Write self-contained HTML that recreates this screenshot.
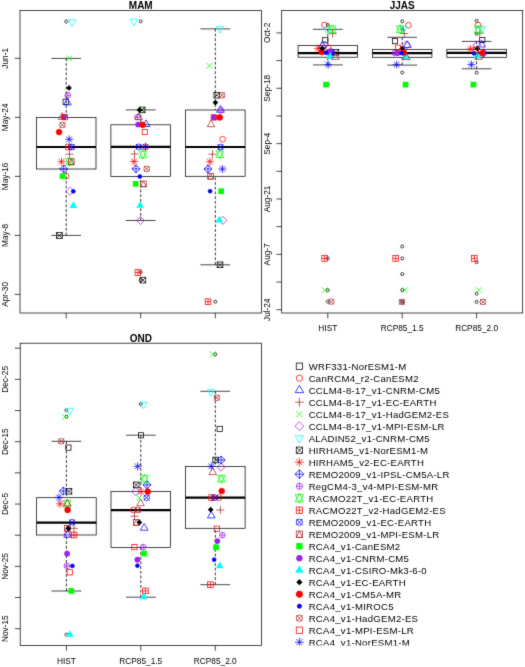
<!DOCTYPE html>
<html><head><meta charset="utf-8"><style>
html,body{margin:0;padding:0;background:#fff;overflow:hidden;}
svg{display:block;font-family:"Liberation Sans",sans-serif;}
</style></head><body>
<svg width="525" height="667" viewBox="0 0 525 667">
<defs><filter id="bl" x="0" y="0" width="525" height="667" filterUnits="userSpaceOnUse" color-interpolation-filters="sRGB"><feConvolveMatrix order="3" kernelMatrix="0.01134 0.08382 0.01134 0.08382 0.61935 0.08382 0.01134 0.08382 0.01134" edgeMode="duplicate"/></filter></defs>
<rect width="525" height="667" fill="#fff"/>
<g filter="url(#bl)">
<text x="140.75" y="9" font-family="Liberation Sans" font-weight="bold" font-size="10" text-anchor="middle" fill="#000">MAM</text>
<line x1="66.2" y1="58.4" x2="66.2" y2="117.4" stroke="#000" stroke-width="0.8" stroke-dasharray="2.8 1.9"/>
<line x1="66.2" y1="235.4" x2="66.2" y2="169" stroke="#000" stroke-width="0.8" stroke-dasharray="2.8 1.9"/>
<line x1="51.3" y1="58.4" x2="81.1" y2="58.4" stroke="#000" stroke-width="0.72" fill="none"/>
<line x1="51.3" y1="235.4" x2="81.1" y2="235.4" stroke="#000" stroke-width="0.72" fill="none"/>
<rect x="36.4" y="117.4" width="59.6" height="51.6" fill="#fff" stroke="#000" stroke-width="0.72" fill="none"/>
<line x1="36.4" y1="147" x2="96" y2="147" stroke="#000" stroke-width="2.2"/>
<line x1="140.7" y1="109.9" x2="140.7" y2="124.8" stroke="#000" stroke-width="0.8" stroke-dasharray="2.8 1.9"/>
<line x1="140.7" y1="220.5" x2="140.7" y2="176.4" stroke="#000" stroke-width="0.8" stroke-dasharray="2.8 1.9"/>
<line x1="125.8" y1="109.9" x2="155.6" y2="109.9" stroke="#000" stroke-width="0.72" fill="none"/>
<line x1="125.8" y1="220.5" x2="155.6" y2="220.5" stroke="#000" stroke-width="0.72" fill="none"/>
<rect x="110.9" y="124.8" width="59.6" height="51.6" fill="#fff" stroke="#000" stroke-width="0.72" fill="none"/>
<line x1="110.9" y1="146.8" x2="170.5" y2="146.8" stroke="#000" stroke-width="2.2"/>
<line x1="215.3" y1="28.9" x2="215.3" y2="110" stroke="#000" stroke-width="0.8" stroke-dasharray="2.8 1.9"/>
<line x1="215.3" y1="264.8" x2="215.3" y2="176.3" stroke="#000" stroke-width="0.8" stroke-dasharray="2.8 1.9"/>
<line x1="200.4" y1="28.9" x2="230.2" y2="28.9" stroke="#000" stroke-width="0.72" fill="none"/>
<line x1="200.4" y1="264.8" x2="230.2" y2="264.8" stroke="#000" stroke-width="0.72" fill="none"/>
<rect x="185.5" y="110" width="59.6" height="66.3" fill="#fff" stroke="#000" stroke-width="0.72" fill="none"/>
<line x1="185.5" y1="147" x2="245.1" y2="147" stroke="#000" stroke-width="2.2"/>
<rect x="20" y="10.4" width="241.5" height="302.6" stroke="#000" stroke-width="0.72" fill="none"/>
<line x1="14.7" y1="58.3" x2="20" y2="58.3" stroke="#000" stroke-width="0.72" fill="none"/>
<text transform="translate(8.2,58.3) rotate(-90)" font-family="Liberation Sans" font-size="8.3" text-anchor="middle" fill="#000">Jun-1</text>
<line x1="14.7" y1="117.33" x2="20" y2="117.33" stroke="#000" stroke-width="0.72" fill="none"/>
<text transform="translate(8.2,117.33) rotate(-90)" font-family="Liberation Sans" font-size="8.3" text-anchor="middle" fill="#000">May-24</text>
<line x1="14.7" y1="176.36" x2="20" y2="176.36" stroke="#000" stroke-width="0.72" fill="none"/>
<text transform="translate(8.2,176.36) rotate(-90)" font-family="Liberation Sans" font-size="8.3" text-anchor="middle" fill="#000">May-16</text>
<line x1="14.7" y1="235.39" x2="20" y2="235.39" stroke="#000" stroke-width="0.72" fill="none"/>
<text transform="translate(8.2,235.39) rotate(-90)" font-family="Liberation Sans" font-size="8.3" text-anchor="middle" fill="#000">May-8</text>
<line x1="14.7" y1="294.42" x2="20" y2="294.42" stroke="#000" stroke-width="0.72" fill="none"/>
<text transform="translate(8.2,294.42) rotate(-90)" font-family="Liberation Sans" font-size="8.3" text-anchor="middle" fill="#000">Apr-30</text>
<line x1="66.2" y1="313" x2="66.2" y2="318.3" stroke="#000" stroke-width="0.72" fill="none"/>
<line x1="140.7" y1="313" x2="140.7" y2="318.3" stroke="#000" stroke-width="0.72" fill="none"/>
<line x1="215.3" y1="313" x2="215.3" y2="318.3" stroke="#000" stroke-width="0.72" fill="none"/>
<text x="402.2" y="9" font-family="Liberation Sans" font-weight="bold" font-size="10" text-anchor="middle" fill="#000">JJAS</text>
<line x1="327.8" y1="29.3" x2="327.8" y2="45.4" stroke="#000" stroke-width="0.8" stroke-dasharray="2.8 1.9"/>
<line x1="327.8" y1="64.9" x2="327.8" y2="57.2" stroke="#000" stroke-width="0.8" stroke-dasharray="2.8 1.9"/>
<line x1="312.93" y1="29.3" x2="342.68" y2="29.3" stroke="#000" stroke-width="0.72" fill="none"/>
<line x1="312.93" y1="64.9" x2="342.68" y2="64.9" stroke="#000" stroke-width="0.72" fill="none"/>
<rect x="298.05" y="45.4" width="59.5" height="11.8" fill="#fff" stroke="#000" stroke-width="0.72" fill="none"/>
<line x1="298.05" y1="53.1" x2="357.55" y2="53.1" stroke="#000" stroke-width="2.2"/>
<line x1="402.2" y1="37.3" x2="402.2" y2="49.5" stroke="#000" stroke-width="0.8" stroke-dasharray="2.8 1.9"/>
<line x1="402.2" y1="65.1" x2="402.2" y2="57.3" stroke="#000" stroke-width="0.8" stroke-dasharray="2.8 1.9"/>
<line x1="387.32" y1="37.3" x2="417.07" y2="37.3" stroke="#000" stroke-width="0.72" fill="none"/>
<line x1="387.32" y1="65.1" x2="417.07" y2="65.1" stroke="#000" stroke-width="0.72" fill="none"/>
<rect x="372.45" y="49.5" width="59.5" height="7.8" fill="#fff" stroke="#000" stroke-width="0.72" fill="none"/>
<line x1="372.45" y1="53.1" x2="431.95" y2="53.1" stroke="#000" stroke-width="2.2"/>
<line x1="476.6" y1="41.4" x2="476.6" y2="49.3" stroke="#000" stroke-width="0.8" stroke-dasharray="2.8 1.9"/>
<line x1="476.6" y1="68.8" x2="476.6" y2="57.3" stroke="#000" stroke-width="0.8" stroke-dasharray="2.8 1.9"/>
<line x1="461.73" y1="41.4" x2="491.48" y2="41.4" stroke="#000" stroke-width="0.72" fill="none"/>
<line x1="461.73" y1="68.8" x2="491.48" y2="68.8" stroke="#000" stroke-width="0.72" fill="none"/>
<rect x="446.85" y="49.3" width="59.5" height="8" fill="#fff" stroke="#000" stroke-width="0.72" fill="none"/>
<line x1="446.85" y1="52.9" x2="506.35" y2="52.9" stroke="#000" stroke-width="2.2"/>
<rect x="281.7" y="10.4" width="241" height="302.6" stroke="#000" stroke-width="0.72" fill="none"/>
<line x1="276.4" y1="32.9" x2="281.7" y2="32.9" stroke="#000" stroke-width="0.72" fill="none"/>
<text transform="translate(270.1,32.9) rotate(-90)" font-family="Liberation Sans" font-size="8.3" text-anchor="middle" fill="#000">Oct-2</text>
<line x1="276.4" y1="60.58" x2="281.7" y2="60.58" stroke="#000" stroke-width="0.72" fill="none"/>
<line x1="276.4" y1="88.26" x2="281.7" y2="88.26" stroke="#000" stroke-width="0.72" fill="none"/>
<text transform="translate(270.1,88.26) rotate(-90)" font-family="Liberation Sans" font-size="8.3" text-anchor="middle" fill="#000">Sep-18</text>
<line x1="276.4" y1="115.94" x2="281.7" y2="115.94" stroke="#000" stroke-width="0.72" fill="none"/>
<line x1="276.4" y1="143.62" x2="281.7" y2="143.62" stroke="#000" stroke-width="0.72" fill="none"/>
<text transform="translate(270.1,143.62) rotate(-90)" font-family="Liberation Sans" font-size="8.3" text-anchor="middle" fill="#000">Sep-4</text>
<line x1="276.4" y1="171.3" x2="281.7" y2="171.3" stroke="#000" stroke-width="0.72" fill="none"/>
<line x1="276.4" y1="198.98" x2="281.7" y2="198.98" stroke="#000" stroke-width="0.72" fill="none"/>
<text transform="translate(270.1,198.98) rotate(-90)" font-family="Liberation Sans" font-size="8.3" text-anchor="middle" fill="#000">Aug-21</text>
<line x1="276.4" y1="226.66" x2="281.7" y2="226.66" stroke="#000" stroke-width="0.72" fill="none"/>
<line x1="276.4" y1="254.34" x2="281.7" y2="254.34" stroke="#000" stroke-width="0.72" fill="none"/>
<text transform="translate(270.1,254.34) rotate(-90)" font-family="Liberation Sans" font-size="8.3" text-anchor="middle" fill="#000">Aug-7</text>
<line x1="276.4" y1="282.02" x2="281.7" y2="282.02" stroke="#000" stroke-width="0.72" fill="none"/>
<line x1="276.4" y1="309.7" x2="281.7" y2="309.7" stroke="#000" stroke-width="0.72" fill="none"/>
<text transform="translate(270.1,309.7) rotate(-90)" font-family="Liberation Sans" font-size="8.3" text-anchor="middle" fill="#000">Jul-24</text>
<line x1="327.8" y1="313" x2="327.8" y2="318.3" stroke="#000" stroke-width="0.72" fill="none"/>
<text x="327.8" y="331.3" font-family="Liberation Sans" font-size="8.3" text-anchor="middle" fill="#000">HIST</text>
<line x1="402.2" y1="313" x2="402.2" y2="318.3" stroke="#000" stroke-width="0.72" fill="none"/>
<text x="402.2" y="331.3" font-family="Liberation Sans" font-size="8.3" text-anchor="middle" fill="#000">RCP85_1.5</text>
<line x1="476.6" y1="313" x2="476.6" y2="318.3" stroke="#000" stroke-width="0.72" fill="none"/>
<text x="476.6" y="331.3" font-family="Liberation Sans" font-size="8.3" text-anchor="middle" fill="#000">RCP85_2.0</text>
<text x="140.85" y="341.5" font-family="Liberation Sans" font-weight="bold" font-size="10" text-anchor="middle" fill="#000">OND</text>
<line x1="66.4" y1="441.3" x2="66.4" y2="497.7" stroke="#000" stroke-width="0.8" stroke-dasharray="2.8 1.9"/>
<line x1="66.4" y1="591" x2="66.4" y2="535" stroke="#000" stroke-width="0.8" stroke-dasharray="2.8 1.9"/>
<line x1="51.5" y1="441.3" x2="81.3" y2="441.3" stroke="#000" stroke-width="0.72" fill="none"/>
<line x1="51.5" y1="591" x2="81.3" y2="591" stroke="#000" stroke-width="0.72" fill="none"/>
<rect x="36.6" y="497.7" width="59.6" height="37.3" fill="#fff" stroke="#000" stroke-width="0.72" fill="none"/>
<line x1="36.6" y1="522.6" x2="96.2" y2="522.6" stroke="#000" stroke-width="2.2"/>
<line x1="140.8" y1="435.2" x2="140.8" y2="491.6" stroke="#000" stroke-width="0.8" stroke-dasharray="2.8 1.9"/>
<line x1="140.8" y1="597.2" x2="140.8" y2="547.4" stroke="#000" stroke-width="0.8" stroke-dasharray="2.8 1.9"/>
<line x1="125.9" y1="435.2" x2="155.7" y2="435.2" stroke="#000" stroke-width="0.72" fill="none"/>
<line x1="125.9" y1="597.2" x2="155.7" y2="597.2" stroke="#000" stroke-width="0.72" fill="none"/>
<rect x="111" y="491.6" width="59.6" height="55.8" fill="#fff" stroke="#000" stroke-width="0.72" fill="none"/>
<line x1="111" y1="510.2" x2="170.6" y2="510.2" stroke="#000" stroke-width="2.2"/>
<line x1="215.3" y1="391.3" x2="215.3" y2="466.5" stroke="#000" stroke-width="0.8" stroke-dasharray="2.8 1.9"/>
<line x1="215.3" y1="584.7" x2="215.3" y2="528.3" stroke="#000" stroke-width="0.8" stroke-dasharray="2.8 1.9"/>
<line x1="200.4" y1="391.3" x2="230.2" y2="391.3" stroke="#000" stroke-width="0.72" fill="none"/>
<line x1="200.4" y1="584.7" x2="230.2" y2="584.7" stroke="#000" stroke-width="0.72" fill="none"/>
<rect x="185.5" y="466.5" width="59.6" height="61.8" fill="#fff" stroke="#000" stroke-width="0.72" fill="none"/>
<line x1="185.5" y1="497.6" x2="245.1" y2="497.6" stroke="#000" stroke-width="2.2"/>
<rect x="20.2" y="343.2" width="241.3" height="302.2" stroke="#000" stroke-width="0.72" fill="none"/>
<line x1="14.9" y1="348.2" x2="20.2" y2="348.2" stroke="#000" stroke-width="0.72" fill="none"/>
<line x1="14.9" y1="379.37" x2="20.2" y2="379.37" stroke="#000" stroke-width="0.72" fill="none"/>
<text transform="translate(8.4,379.37) rotate(-90)" font-family="Liberation Sans" font-size="8.3" text-anchor="middle" fill="#000">Dec-25</text>
<line x1="14.9" y1="410.54" x2="20.2" y2="410.54" stroke="#000" stroke-width="0.72" fill="none"/>
<line x1="14.9" y1="441.71" x2="20.2" y2="441.71" stroke="#000" stroke-width="0.72" fill="none"/>
<text transform="translate(8.4,441.71) rotate(-90)" font-family="Liberation Sans" font-size="8.3" text-anchor="middle" fill="#000">Dec-15</text>
<line x1="14.9" y1="472.88" x2="20.2" y2="472.88" stroke="#000" stroke-width="0.72" fill="none"/>
<line x1="14.9" y1="504.05" x2="20.2" y2="504.05" stroke="#000" stroke-width="0.72" fill="none"/>
<text transform="translate(8.4,504.05) rotate(-90)" font-family="Liberation Sans" font-size="8.3" text-anchor="middle" fill="#000">Dec-5</text>
<line x1="14.9" y1="535.22" x2="20.2" y2="535.22" stroke="#000" stroke-width="0.72" fill="none"/>
<line x1="14.9" y1="566.39" x2="20.2" y2="566.39" stroke="#000" stroke-width="0.72" fill="none"/>
<text transform="translate(8.4,566.39) rotate(-90)" font-family="Liberation Sans" font-size="8.3" text-anchor="middle" fill="#000">Nov-25</text>
<line x1="14.9" y1="597.56" x2="20.2" y2="597.56" stroke="#000" stroke-width="0.72" fill="none"/>
<line x1="14.9" y1="628.73" x2="20.2" y2="628.73" stroke="#000" stroke-width="0.72" fill="none"/>
<text transform="translate(8.4,628.73) rotate(-90)" font-family="Liberation Sans" font-size="8.3" text-anchor="middle" fill="#000">Nov-15</text>
<line x1="66.4" y1="645.4" x2="66.4" y2="650.7" stroke="#000" stroke-width="0.72" fill="none"/>
<text x="66.4" y="663.7" font-family="Liberation Sans" font-size="8.3" text-anchor="middle" fill="#000">HIST</text>
<line x1="140.8" y1="645.4" x2="140.8" y2="650.7" stroke="#000" stroke-width="0.72" fill="none"/>
<text x="140.8" y="663.7" font-family="Liberation Sans" font-size="8.3" text-anchor="middle" fill="#000">RCP85_1.5</text>
<line x1="215.3" y1="645.4" x2="215.3" y2="650.7" stroke="#000" stroke-width="0.72" fill="none"/>
<text x="215.3" y="663.7" font-family="Liberation Sans" font-size="8.3" text-anchor="middle" fill="#000">RCP85_2.0</text>
<circle cx="66.2" cy="21.5" r="1.5" fill="none" stroke="#000" stroke-width="0.75"/>
<circle cx="140.7" cy="21.4" r="1.5" fill="none" stroke="#000" stroke-width="0.75"/>
<circle cx="140.7" cy="272.1" r="1.5" fill="none" stroke="#000" stroke-width="0.75"/>
<circle cx="140.7" cy="280.1" r="1.5" fill="none" stroke="#000" stroke-width="0.75"/>
<circle cx="215.3" cy="301.7" r="1.5" fill="none" stroke="#000" stroke-width="0.75"/>
<circle cx="327.8" cy="25" r="1.5" fill="none" stroke="#000" stroke-width="0.75"/>
<circle cx="327.8" cy="84.6" r="1.5" fill="none" stroke="#000" stroke-width="0.75"/>
<circle cx="327.8" cy="258.4" r="1.5" fill="none" stroke="#000" stroke-width="0.75"/>
<circle cx="327.8" cy="290.2" r="1.5" fill="none" stroke="#000" stroke-width="0.75"/>
<circle cx="327.8" cy="301.6" r="1.5" fill="none" stroke="#000" stroke-width="0.75"/>
<circle cx="402.2" cy="21.3" r="1.5" fill="none" stroke="#000" stroke-width="0.75"/>
<circle cx="402.2" cy="29.3" r="1.5" fill="none" stroke="#000" stroke-width="0.75"/>
<circle cx="402.2" cy="72.5" r="1.5" fill="none" stroke="#000" stroke-width="0.75"/>
<circle cx="402.2" cy="246.5" r="1.5" fill="none" stroke="#000" stroke-width="0.75"/>
<circle cx="402.2" cy="258.4" r="1.5" fill="none" stroke="#000" stroke-width="0.75"/>
<circle cx="402.2" cy="274.1" r="1.5" fill="none" stroke="#000" stroke-width="0.75"/>
<circle cx="402.2" cy="290.1" r="1.5" fill="none" stroke="#000" stroke-width="0.75"/>
<circle cx="402.2" cy="301.9" r="1.5" fill="none" stroke="#000" stroke-width="0.75"/>
<circle cx="476.6" cy="20.8" r="1.5" fill="none" stroke="#000" stroke-width="0.75"/>
<circle cx="476.6" cy="33.8" r="1.5" fill="none" stroke="#000" stroke-width="0.75"/>
<circle cx="476.6" cy="72.6" r="1.5" fill="none" stroke="#000" stroke-width="0.75"/>
<circle cx="476.6" cy="262.2" r="1.5" fill="none" stroke="#000" stroke-width="0.75"/>
<circle cx="476.6" cy="293.7" r="1.5" fill="none" stroke="#000" stroke-width="0.75"/>
<circle cx="476.6" cy="301.9" r="1.5" fill="none" stroke="#000" stroke-width="0.75"/>
<circle cx="66.4" cy="410.2" r="1.5" fill="none" stroke="#000" stroke-width="0.75"/>
<circle cx="66.4" cy="416.7" r="1.5" fill="none" stroke="#000" stroke-width="0.75"/>
<circle cx="66.4" cy="634.6" r="1.5" fill="none" stroke="#000" stroke-width="0.75"/>
<circle cx="140.8" cy="404.2" r="1.5" fill="none" stroke="#000" stroke-width="0.75"/>
<circle cx="215.3" cy="354.3" r="1.5" fill="none" stroke="#000" stroke-width="0.75"/>
<rect x="63.08" y="99.18" width="5.24" height="5.24" fill="none" stroke="#000000" stroke-width="0.75"/>
<rect x="322.68" y="37.48" width="5.24" height="5.24" fill="none" stroke="#000000" stroke-width="0.75"/>
<rect x="392.38" y="38.48" width="5.24" height="5.24" fill="none" stroke="#000000" stroke-width="0.75"/>
<rect x="479.68" y="37.38" width="5.24" height="5.24" fill="none" stroke="#000000" stroke-width="0.75"/>
<rect x="65.78" y="444.98" width="5.24" height="5.24" fill="none" stroke="#000000" stroke-width="0.75"/>
<rect x="138.38" y="432.68" width="5.24" height="5.24" fill="none" stroke="#000000" stroke-width="0.75"/>
<rect x="217.08" y="426.28" width="5.24" height="5.24" fill="none" stroke="#000000" stroke-width="0.75"/>
<circle cx="66" cy="176.2" r="2.85" fill="none" stroke="#FF0000" stroke-width="0.75"/>
<circle cx="145.5" cy="146.8" r="2.85" fill="none" stroke="#FF0000" stroke-width="0.75"/>
<circle cx="222.6" cy="139.3" r="2.85" fill="none" stroke="#FF0000" stroke-width="0.75"/>
<circle cx="324.4" cy="25" r="2.85" fill="none" stroke="#FF0000" stroke-width="0.75"/>
<circle cx="328.3" cy="47.8" r="2.85" fill="none" stroke="#FF0000" stroke-width="0.75"/>
<circle cx="408.4" cy="25.3" r="2.85" fill="none" stroke="#FF0000" stroke-width="0.75"/>
<circle cx="478" cy="25" r="2.85" fill="none" stroke="#FF0000" stroke-width="0.75"/>
<circle cx="133.2" cy="510" r="2.85" fill="none" stroke="#FF0000" stroke-width="0.75"/>
<circle cx="219.1" cy="497.6" r="2.85" fill="none" stroke="#FF0000" stroke-width="0.75"/>
<polygon points="67.4,98.27 71.24,104.92 63.56,104.92" fill="none" stroke="#0000FF" stroke-width="0.75"/>
<polygon points="146.1,119.87 149.94,126.52 142.26,126.52" fill="none" stroke="#0000FF" stroke-width="0.75"/>
<polygon points="220.5,105.57 224.34,112.22 216.66,112.22" fill="none" stroke="#0000FF" stroke-width="0.75"/>
<polygon points="322.4,41.07 326.24,47.72 318.56,47.72" fill="none" stroke="#0000FF" stroke-width="0.75"/>
<polygon points="481.7,40.37 485.54,47.02 477.86,47.02" fill="none" stroke="#0000FF" stroke-width="0.75"/>
<polygon points="67.7,530.57 71.54,537.22 63.86,537.22" fill="none" stroke="#0000FF" stroke-width="0.75"/>
<polygon points="144.2,523.57 148.04,530.22 140.36,530.22" fill="none" stroke="#0000FF" stroke-width="0.75"/>
<polygon points="211.3,511.27 215.14,517.92 207.46,517.92" fill="none" stroke="#0000FF" stroke-width="0.75"/>
<line x1="65.47" y1="154.2" x2="73.53" y2="154.2" fill="none" stroke="#A52A2A" stroke-width="0.75"/><line x1="69.5" y1="150.17" x2="69.5" y2="158.23" fill="none" stroke="#A52A2A" stroke-width="0.75"/>
<line x1="130.47" y1="154" x2="138.53" y2="154" fill="none" stroke="#A52A2A" stroke-width="0.75"/><line x1="134.5" y1="149.97" x2="134.5" y2="158.03" fill="none" stroke="#A52A2A" stroke-width="0.75"/>
<line x1="208.47" y1="154.2" x2="216.53" y2="154.2" fill="none" stroke="#A52A2A" stroke-width="0.75"/><line x1="212.5" y1="150.17" x2="212.5" y2="158.23" fill="none" stroke="#A52A2A" stroke-width="0.75"/>
<line x1="328.57" y1="33.6" x2="336.63" y2="33.6" fill="none" stroke="#A52A2A" stroke-width="0.75"/><line x1="332.6" y1="29.57" x2="332.6" y2="37.63" fill="none" stroke="#A52A2A" stroke-width="0.75"/>
<line x1="400.27" y1="33.5" x2="408.33" y2="33.5" fill="none" stroke="#A52A2A" stroke-width="0.75"/><line x1="404.3" y1="29.47" x2="404.3" y2="37.53" fill="none" stroke="#A52A2A" stroke-width="0.75"/>
<line x1="475.67" y1="33.3" x2="483.73" y2="33.3" fill="none" stroke="#A52A2A" stroke-width="0.75"/><line x1="479.7" y1="29.27" x2="479.7" y2="37.33" fill="none" stroke="#A52A2A" stroke-width="0.75"/>
<line x1="69.97" y1="528.3" x2="78.03" y2="528.3" fill="none" stroke="#A52A2A" stroke-width="0.75"/><line x1="74" y1="524.27" x2="74" y2="532.33" fill="none" stroke="#A52A2A" stroke-width="0.75"/>
<line x1="130.47" y1="516.2" x2="138.53" y2="516.2" fill="none" stroke="#A52A2A" stroke-width="0.75"/><line x1="134.5" y1="512.17" x2="134.5" y2="520.23" fill="none" stroke="#A52A2A" stroke-width="0.75"/>
<line x1="216.37" y1="510" x2="224.43" y2="510" fill="none" stroke="#A52A2A" stroke-width="0.75"/><line x1="220.4" y1="505.97" x2="220.4" y2="514.03" fill="none" stroke="#A52A2A" stroke-width="0.75"/>
<line x1="66.35" y1="55.55" x2="72.05" y2="61.25" fill="none" stroke="#00FF00" stroke-width="0.75"/><line x1="66.35" y1="61.25" x2="72.05" y2="55.55" fill="none" stroke="#00FF00" stroke-width="0.75"/>
<line x1="139.75" y1="107.15" x2="145.45" y2="112.85" fill="none" stroke="#00FF00" stroke-width="0.75"/><line x1="139.75" y1="112.85" x2="145.45" y2="107.15" fill="none" stroke="#00FF00" stroke-width="0.75"/>
<line x1="206.55" y1="62.95" x2="212.25" y2="68.65" fill="none" stroke="#00FF00" stroke-width="0.75"/><line x1="206.55" y1="68.65" x2="212.25" y2="62.95" fill="none" stroke="#00FF00" stroke-width="0.75"/>
<line x1="321.75" y1="287.35" x2="327.45" y2="293.05" fill="none" stroke="#00FF00" stroke-width="0.75"/><line x1="321.75" y1="293.05" x2="327.45" y2="287.35" fill="none" stroke="#00FF00" stroke-width="0.75"/>
<line x1="401.85" y1="287.25" x2="407.55" y2="292.95" fill="none" stroke="#00FF00" stroke-width="0.75"/><line x1="401.85" y1="292.95" x2="407.55" y2="287.25" fill="none" stroke="#00FF00" stroke-width="0.75"/>
<line x1="475.95" y1="287.25" x2="481.65" y2="292.95" fill="none" stroke="#00FF00" stroke-width="0.75"/><line x1="475.95" y1="292.95" x2="481.65" y2="287.25" fill="none" stroke="#00FF00" stroke-width="0.75"/>
<line x1="62.05" y1="413.85" x2="67.75" y2="419.55" fill="none" stroke="#00FF00" stroke-width="0.75"/><line x1="62.05" y1="419.55" x2="67.75" y2="413.85" fill="none" stroke="#00FF00" stroke-width="0.75"/>
<line x1="136.55" y1="495.15" x2="142.25" y2="500.85" fill="none" stroke="#00FF00" stroke-width="0.75"/><line x1="136.55" y1="500.85" x2="142.25" y2="495.15" fill="none" stroke="#00FF00" stroke-width="0.75"/>
<line x1="209.85" y1="351.45" x2="215.55" y2="357.15" fill="none" stroke="#00FF00" stroke-width="0.75"/><line x1="209.85" y1="357.15" x2="215.55" y2="351.45" fill="none" stroke="#00FF00" stroke-width="0.75"/>
<polygon points="65.87,191.3 69.9,187.27 73.93,191.3 69.9,195.33" fill="none" stroke="#A020F0" stroke-width="0.75"/>
<polygon points="136.47,220.5 140.5,216.47 144.53,220.5 140.5,224.53" fill="none" stroke="#A020F0" stroke-width="0.75"/>
<polygon points="218.87,220.4 222.9,216.37 226.93,220.4 222.9,224.43" fill="none" stroke="#A020F0" stroke-width="0.75"/>
<polygon points="320.57,45 324.6,40.97 328.63,45 324.6,49.03" fill="none" stroke="#A020F0" stroke-width="0.75"/>
<polygon points="402.47,44.8 406.5,40.77 410.53,44.8 406.5,48.83" fill="none" stroke="#A020F0" stroke-width="0.75"/>
<polygon points="473.07,44.9 477.1,40.87 481.13,44.9 477.1,48.93" fill="none" stroke="#A020F0" stroke-width="0.75"/>
<polygon points="63.97,534 68,529.97 72.03,534 68,538.03" fill="none" stroke="#A020F0" stroke-width="0.75"/>
<polygon points="131.67,491.6 135.7,487.57 139.73,491.6 135.7,495.63" fill="none" stroke="#A020F0" stroke-width="0.75"/>
<polygon points="217.07,467 221.1,462.97 225.13,467 221.1,471.03" fill="none" stroke="#A020F0" stroke-width="0.75"/>
<polygon points="72.2,26.43 76.04,19.78 68.36,19.78" fill="none" stroke="#00FFFF" stroke-width="0.75"/>
<polygon points="133.9,25.93 137.74,19.28 130.06,19.28" fill="none" stroke="#00FFFF" stroke-width="0.75"/>
<polygon points="220,33.23 223.84,26.58 216.16,26.58" fill="none" stroke="#00FFFF" stroke-width="0.75"/>
<polygon points="326.7,33.73 330.54,27.08 322.86,27.08" fill="none" stroke="#00FFFF" stroke-width="0.75"/>
<polygon points="403.6,32.73 407.44,26.08 399.76,26.08" fill="none" stroke="#00FFFF" stroke-width="0.75"/>
<polygon points="481.7,33.43 485.54,26.78 477.86,26.78" fill="none" stroke="#00FFFF" stroke-width="0.75"/>
<polygon points="70,414.93 73.84,408.28 66.16,408.28" fill="none" stroke="#00FFFF" stroke-width="0.75"/>
<polygon points="143.4,408.73 147.24,402.08 139.56,402.08" fill="none" stroke="#00FFFF" stroke-width="0.75"/>
<polygon points="210.9,396.33 214.74,389.68 207.06,389.68" fill="none" stroke="#00FFFF" stroke-width="0.75"/>
<rect x="56.55" y="232.65" width="5.7" height="5.7" fill="none" stroke="#000000" stroke-width="0.75"/><line x1="56.55" y1="232.65" x2="62.25" y2="238.35" fill="none" stroke="#000000" stroke-width="0.75"/><line x1="56.55" y1="238.35" x2="62.25" y2="232.65" fill="none" stroke="#000000" stroke-width="0.75"/>
<rect x="140.05" y="277.25" width="5.7" height="5.7" fill="none" stroke="#000000" stroke-width="0.75"/><line x1="140.05" y1="277.25" x2="145.75" y2="282.95" fill="none" stroke="#000000" stroke-width="0.75"/><line x1="140.05" y1="282.95" x2="145.75" y2="277.25" fill="none" stroke="#000000" stroke-width="0.75"/>
<rect x="213.95" y="92.35" width="5.7" height="5.7" fill="none" stroke="#000000" stroke-width="0.75"/><line x1="213.95" y1="92.35" x2="219.65" y2="98.05" fill="none" stroke="#000000" stroke-width="0.75"/><line x1="213.95" y1="98.05" x2="219.65" y2="92.35" fill="none" stroke="#000000" stroke-width="0.75"/>
<rect x="217.15" y="261.95" width="5.7" height="5.7" fill="none" stroke="#000000" stroke-width="0.75"/><line x1="217.15" y1="261.95" x2="222.85" y2="267.65" fill="none" stroke="#000000" stroke-width="0.75"/><line x1="217.15" y1="267.65" x2="222.85" y2="261.95" fill="none" stroke="#000000" stroke-width="0.75"/>
<rect x="333.05" y="49.45" width="5.7" height="5.7" fill="none" stroke="#000000" stroke-width="0.75"/><line x1="333.05" y1="49.45" x2="338.75" y2="55.15" fill="none" stroke="#000000" stroke-width="0.75"/><line x1="333.05" y1="55.15" x2="338.75" y2="49.45" fill="none" stroke="#000000" stroke-width="0.75"/>
<rect x="66.05" y="488.45" width="5.7" height="5.7" fill="none" stroke="#000000" stroke-width="0.75"/><line x1="66.05" y1="488.45" x2="71.75" y2="494.15" fill="none" stroke="#000000" stroke-width="0.75"/><line x1="66.05" y1="494.15" x2="71.75" y2="488.45" fill="none" stroke="#000000" stroke-width="0.75"/>
<rect x="133.45" y="482.05" width="5.7" height="5.7" fill="none" stroke="#000000" stroke-width="0.75"/><line x1="133.45" y1="482.05" x2="139.15" y2="487.75" fill="none" stroke="#000000" stroke-width="0.75"/><line x1="133.45" y1="487.75" x2="139.15" y2="482.05" fill="none" stroke="#000000" stroke-width="0.75"/>
<rect x="212.85" y="457.15" width="5.7" height="5.7" fill="none" stroke="#000000" stroke-width="0.75"/><line x1="212.85" y1="457.15" x2="218.55" y2="462.85" fill="none" stroke="#000000" stroke-width="0.75"/><line x1="212.85" y1="462.85" x2="218.55" y2="457.15" fill="none" stroke="#000000" stroke-width="0.75"/>
<line x1="58.75" y1="158.85" x2="64.45" y2="164.55" fill="none" stroke="#FF0000" stroke-width="0.75"/><line x1="58.75" y1="164.55" x2="64.45" y2="158.85" fill="none" stroke="#FF0000" stroke-width="0.75"/><line x1="57.57" y1="161.7" x2="65.63" y2="161.7" fill="none" stroke="#FF0000" stroke-width="0.75"/><line x1="61.6" y1="157.67" x2="61.6" y2="165.73" fill="none" stroke="#FF0000" stroke-width="0.75"/>
<line x1="131.25" y1="158.65" x2="136.95" y2="164.35" fill="none" stroke="#FF0000" stroke-width="0.75"/><line x1="131.25" y1="164.35" x2="136.95" y2="158.65" fill="none" stroke="#FF0000" stroke-width="0.75"/><line x1="130.07" y1="161.5" x2="138.13" y2="161.5" fill="none" stroke="#FF0000" stroke-width="0.75"/><line x1="134.1" y1="157.47" x2="134.1" y2="165.53" fill="none" stroke="#FF0000" stroke-width="0.75"/>
<line x1="207.05" y1="158.85" x2="212.75" y2="164.55" fill="none" stroke="#FF0000" stroke-width="0.75"/><line x1="207.05" y1="164.55" x2="212.75" y2="158.85" fill="none" stroke="#FF0000" stroke-width="0.75"/><line x1="205.87" y1="161.7" x2="213.93" y2="161.7" fill="none" stroke="#FF0000" stroke-width="0.75"/><line x1="209.9" y1="157.67" x2="209.9" y2="165.73" fill="none" stroke="#FF0000" stroke-width="0.75"/>
<line x1="315.25" y1="45.75" x2="320.95" y2="51.45" fill="none" stroke="#FF0000" stroke-width="0.75"/><line x1="315.25" y1="51.45" x2="320.95" y2="45.75" fill="none" stroke="#FF0000" stroke-width="0.75"/><line x1="314.07" y1="48.6" x2="322.13" y2="48.6" fill="none" stroke="#FF0000" stroke-width="0.75"/><line x1="318.1" y1="44.57" x2="318.1" y2="52.63" fill="none" stroke="#FF0000" stroke-width="0.75"/>
<line x1="467.75" y1="46.05" x2="473.45" y2="51.75" fill="none" stroke="#FF0000" stroke-width="0.75"/><line x1="467.75" y1="51.75" x2="473.45" y2="46.05" fill="none" stroke="#FF0000" stroke-width="0.75"/><line x1="466.57" y1="48.9" x2="474.63" y2="48.9" fill="none" stroke="#FF0000" stroke-width="0.75"/><line x1="470.6" y1="44.87" x2="470.6" y2="52.93" fill="none" stroke="#FF0000" stroke-width="0.75"/>
<line x1="57.15" y1="501.05" x2="62.85" y2="506.75" fill="none" stroke="#FF0000" stroke-width="0.75"/><line x1="57.15" y1="506.75" x2="62.85" y2="501.05" fill="none" stroke="#FF0000" stroke-width="0.75"/><line x1="55.97" y1="503.9" x2="64.03" y2="503.9" fill="none" stroke="#FF0000" stroke-width="0.75"/><line x1="60" y1="499.87" x2="60" y2="507.93" fill="none" stroke="#FF0000" stroke-width="0.75"/>
<line x1="138.15" y1="488.75" x2="143.85" y2="494.45" fill="none" stroke="#FF0000" stroke-width="0.75"/><line x1="138.15" y1="494.45" x2="143.85" y2="488.75" fill="none" stroke="#FF0000" stroke-width="0.75"/><line x1="136.97" y1="491.6" x2="145.03" y2="491.6" fill="none" stroke="#FF0000" stroke-width="0.75"/><line x1="141" y1="487.57" x2="141" y2="495.63" fill="none" stroke="#FF0000" stroke-width="0.75"/>
<line x1="59.67" y1="169" x2="67.73" y2="169" fill="none" stroke="#0000FF" stroke-width="0.75"/><line x1="63.7" y1="164.97" x2="63.7" y2="173.03" fill="none" stroke="#0000FF" stroke-width="0.75"/><polygon points="59.67,169 63.7,164.97 67.73,169 63.7,173.03" fill="none" stroke="#0000FF" stroke-width="0.75"/>
<line x1="131.97" y1="168.9" x2="140.03" y2="168.9" fill="none" stroke="#0000FF" stroke-width="0.75"/><line x1="136" y1="164.87" x2="136" y2="172.93" fill="none" stroke="#0000FF" stroke-width="0.75"/><polygon points="131.97,168.9 136,164.87 140.03,168.9 136,172.93" fill="none" stroke="#0000FF" stroke-width="0.75"/>
<line x1="203.97" y1="169" x2="212.03" y2="169" fill="none" stroke="#0000FF" stroke-width="0.75"/><line x1="208" y1="164.97" x2="208" y2="173.03" fill="none" stroke="#0000FF" stroke-width="0.75"/><polygon points="203.97,169 208,164.97 212.03,169 208,173.03" fill="none" stroke="#0000FF" stroke-width="0.75"/>
<line x1="327.47" y1="52.5" x2="335.53" y2="52.5" fill="none" stroke="#0000FF" stroke-width="0.75"/><line x1="331.5" y1="48.47" x2="331.5" y2="56.53" fill="none" stroke="#0000FF" stroke-width="0.75"/><polygon points="327.47,52.5 331.5,48.47 335.53,52.5 331.5,56.53" fill="none" stroke="#0000FF" stroke-width="0.75"/>
<line x1="479.57" y1="53" x2="487.63" y2="53" fill="none" stroke="#0000FF" stroke-width="0.75"/><line x1="483.6" y1="48.97" x2="483.6" y2="57.03" fill="none" stroke="#0000FF" stroke-width="0.75"/><polygon points="479.57,53 483.6,48.97 487.63,53 483.6,57.03" fill="none" stroke="#0000FF" stroke-width="0.75"/>
<line x1="59.27" y1="491" x2="67.33" y2="491" fill="none" stroke="#0000FF" stroke-width="0.75"/><line x1="63.3" y1="486.97" x2="63.3" y2="495.03" fill="none" stroke="#0000FF" stroke-width="0.75"/><polygon points="59.27,491 63.3,486.97 67.33,491 63.3,495.03" fill="none" stroke="#0000FF" stroke-width="0.75"/>
<line x1="142.97" y1="484.9" x2="151.03" y2="484.9" fill="none" stroke="#0000FF" stroke-width="0.75"/><line x1="147" y1="480.87" x2="147" y2="488.93" fill="none" stroke="#0000FF" stroke-width="0.75"/><polygon points="142.97,484.9 147,480.87 151.03,484.9 147,488.93" fill="none" stroke="#0000FF" stroke-width="0.75"/>
<line x1="217.07" y1="460" x2="225.13" y2="460" fill="none" stroke="#0000FF" stroke-width="0.75"/><line x1="221.1" y1="455.97" x2="221.1" y2="464.03" fill="none" stroke="#0000FF" stroke-width="0.75"/><polygon points="217.07,460 221.1,455.97 225.13,460 221.1,464.03" fill="none" stroke="#0000FF" stroke-width="0.75"/>
<circle cx="67.8" cy="95.3" r="2.85" fill="none" stroke="#A020F0" stroke-width="0.75"/><line x1="64.95" y1="95.3" x2="70.65" y2="95.3" fill="none" stroke="#A020F0" stroke-width="0.75"/><line x1="67.8" y1="92.45" x2="67.8" y2="98.15" fill="none" stroke="#A020F0" stroke-width="0.75"/>
<circle cx="137.5" cy="117.1" r="2.85" fill="none" stroke="#A020F0" stroke-width="0.75"/><line x1="134.65" y1="117.1" x2="140.35" y2="117.1" fill="none" stroke="#A020F0" stroke-width="0.75"/><line x1="137.5" y1="114.25" x2="137.5" y2="119.95" fill="none" stroke="#A020F0" stroke-width="0.75"/>
<circle cx="221" cy="110.3" r="2.85" fill="none" stroke="#A020F0" stroke-width="0.75"/><line x1="218.15" y1="110.3" x2="223.85" y2="110.3" fill="none" stroke="#A020F0" stroke-width="0.75"/><line x1="221" y1="107.45" x2="221" y2="113.15" fill="none" stroke="#A020F0" stroke-width="0.75"/>
<circle cx="329.6" cy="51.7" r="2.85" fill="none" stroke="#A020F0" stroke-width="0.75"/><line x1="326.75" y1="51.7" x2="332.45" y2="51.7" fill="none" stroke="#A020F0" stroke-width="0.75"/><line x1="329.6" y1="48.85" x2="329.6" y2="54.55" fill="none" stroke="#A020F0" stroke-width="0.75"/>
<circle cx="394.7" cy="53" r="2.85" fill="none" stroke="#A020F0" stroke-width="0.75"/><line x1="391.85" y1="53" x2="397.55" y2="53" fill="none" stroke="#A020F0" stroke-width="0.75"/><line x1="394.7" y1="50.15" x2="394.7" y2="55.85" fill="none" stroke="#A020F0" stroke-width="0.75"/>
<circle cx="66.9" cy="565.9" r="2.85" fill="none" stroke="#A020F0" stroke-width="0.75"/><line x1="64.05" y1="565.9" x2="69.75" y2="565.9" fill="none" stroke="#A020F0" stroke-width="0.75"/><line x1="66.9" y1="563.05" x2="66.9" y2="568.75" fill="none" stroke="#A020F0" stroke-width="0.75"/>
<circle cx="143.1" cy="547.1" r="2.85" fill="none" stroke="#A020F0" stroke-width="0.75"/><line x1="140.25" y1="547.1" x2="145.95" y2="547.1" fill="none" stroke="#A020F0" stroke-width="0.75"/><line x1="143.1" y1="544.25" x2="143.1" y2="549.95" fill="none" stroke="#A020F0" stroke-width="0.75"/>
<circle cx="222.3" cy="535.1" r="2.85" fill="none" stroke="#A020F0" stroke-width="0.75"/><line x1="219.45" y1="535.1" x2="225.15" y2="535.1" fill="none" stroke="#A020F0" stroke-width="0.75"/><line x1="222.3" y1="532.25" x2="222.3" y2="537.95" fill="none" stroke="#A020F0" stroke-width="0.75"/>
<polygon points="69.4,157.27 73.24,165.02 65.56,165.02" fill="none" stroke="#00FF00" stroke-width="0.75"/><polygon points="69.4,166.13 73.24,158.38 65.56,158.38" fill="none" stroke="#00FF00" stroke-width="0.75"/>
<polygon points="142.9,149.97 146.74,157.72 139.06,157.72" fill="none" stroke="#00FF00" stroke-width="0.75"/><polygon points="142.9,158.83 146.74,151.08 139.06,151.08" fill="none" stroke="#00FF00" stroke-width="0.75"/>
<polygon points="219.8,149.77 223.64,157.52 215.96,157.52" fill="none" stroke="#00FF00" stroke-width="0.75"/><polygon points="219.8,158.63 223.64,150.88 215.96,150.88" fill="none" stroke="#00FF00" stroke-width="0.75"/>
<polygon points="332.2,24.87 336.04,32.62 328.36,32.62" fill="none" stroke="#00FF00" stroke-width="0.75"/><polygon points="332.2,33.73 336.04,25.98 328.36,25.98" fill="none" stroke="#00FF00" stroke-width="0.75"/>
<polygon points="400.1,24.87 403.94,32.62 396.26,32.62" fill="none" stroke="#00FF00" stroke-width="0.75"/><polygon points="400.1,33.73 403.94,25.98 396.26,25.98" fill="none" stroke="#00FF00" stroke-width="0.75"/>
<polygon points="478.3,25.17 482.14,32.92 474.46,32.92" fill="none" stroke="#00FF00" stroke-width="0.75"/><polygon points="478.3,34.03 482.14,26.28 474.46,26.28" fill="none" stroke="#00FF00" stroke-width="0.75"/>
<polygon points="67.3,499.27 71.14,507.02 63.46,507.02" fill="none" stroke="#00FF00" stroke-width="0.75"/><polygon points="67.3,508.13 71.14,500.38 63.46,500.38" fill="none" stroke="#00FF00" stroke-width="0.75"/>
<polygon points="144.6,474.27 148.44,482.02 140.76,482.02" fill="none" stroke="#00FF00" stroke-width="0.75"/><polygon points="144.6,483.13 148.44,475.38 140.76,475.38" fill="none" stroke="#00FF00" stroke-width="0.75"/>
<polygon points="221.3,474.27 225.14,482.02 217.46,482.02" fill="none" stroke="#00FF00" stroke-width="0.75"/><polygon points="221.3,483.13 225.14,475.38 217.46,475.38" fill="none" stroke="#00FF00" stroke-width="0.75"/>
<rect x="65.75" y="144.15" width="5.7" height="5.7" fill="none" stroke="#FF0000" stroke-width="0.75"/><line x1="65.75" y1="147" x2="71.45" y2="147" fill="none" stroke="#FF0000" stroke-width="0.75"/><line x1="68.6" y1="144.15" x2="68.6" y2="149.85" fill="none" stroke="#FF0000" stroke-width="0.75"/>
<rect x="135.05" y="269.65" width="5.7" height="5.7" fill="none" stroke="#FF0000" stroke-width="0.75"/><line x1="135.05" y1="272.5" x2="140.75" y2="272.5" fill="none" stroke="#FF0000" stroke-width="0.75"/><line x1="137.9" y1="269.65" x2="137.9" y2="275.35" fill="none" stroke="#FF0000" stroke-width="0.75"/>
<rect x="205.15" y="298.85" width="5.7" height="5.7" fill="none" stroke="#FF0000" stroke-width="0.75"/><line x1="205.15" y1="301.7" x2="210.85" y2="301.7" fill="none" stroke="#FF0000" stroke-width="0.75"/><line x1="208" y1="298.85" x2="208" y2="304.55" fill="none" stroke="#FF0000" stroke-width="0.75"/>
<rect x="321.75" y="255.55" width="5.7" height="5.7" fill="none" stroke="#FF0000" stroke-width="0.75"/><line x1="321.75" y1="258.4" x2="327.45" y2="258.4" fill="none" stroke="#FF0000" stroke-width="0.75"/><line x1="324.6" y1="255.55" x2="324.6" y2="261.25" fill="none" stroke="#FF0000" stroke-width="0.75"/>
<rect x="392.85" y="255.55" width="5.7" height="5.7" fill="none" stroke="#FF0000" stroke-width="0.75"/><line x1="392.85" y1="258.4" x2="398.55" y2="258.4" fill="none" stroke="#FF0000" stroke-width="0.75"/><line x1="395.7" y1="255.55" x2="395.7" y2="261.25" fill="none" stroke="#FF0000" stroke-width="0.75"/>
<rect x="471.45" y="255.55" width="5.7" height="5.7" fill="none" stroke="#FF0000" stroke-width="0.75"/><line x1="471.45" y1="258.4" x2="477.15" y2="258.4" fill="none" stroke="#FF0000" stroke-width="0.75"/><line x1="474.3" y1="255.55" x2="474.3" y2="261.25" fill="none" stroke="#FF0000" stroke-width="0.75"/>
<rect x="71.15" y="532.15" width="5.7" height="5.7" fill="none" stroke="#FF0000" stroke-width="0.75"/><line x1="71.15" y1="535" x2="76.85" y2="535" fill="none" stroke="#FF0000" stroke-width="0.75"/><line x1="74" y1="532.15" x2="74" y2="537.85" fill="none" stroke="#FF0000" stroke-width="0.75"/>
<rect x="142.55" y="588.05" width="5.7" height="5.7" fill="none" stroke="#FF0000" stroke-width="0.75"/><line x1="142.55" y1="590.9" x2="148.25" y2="590.9" fill="none" stroke="#FF0000" stroke-width="0.75"/><line x1="145.4" y1="588.05" x2="145.4" y2="593.75" fill="none" stroke="#FF0000" stroke-width="0.75"/>
<rect x="208.85" y="494.75" width="5.7" height="5.7" fill="none" stroke="#FF0000" stroke-width="0.75"/><line x1="208.85" y1="497.6" x2="214.55" y2="497.6" fill="none" stroke="#FF0000" stroke-width="0.75"/><line x1="211.7" y1="494.75" x2="211.7" y2="500.45" fill="none" stroke="#FF0000" stroke-width="0.75"/>
<rect x="207.55" y="581.85" width="5.7" height="5.7" fill="none" stroke="#FF0000" stroke-width="0.75"/><line x1="207.55" y1="584.7" x2="213.25" y2="584.7" fill="none" stroke="#FF0000" stroke-width="0.75"/><line x1="210.4" y1="581.85" x2="210.4" y2="587.55" fill="none" stroke="#FF0000" stroke-width="0.75"/>
<circle cx="71.7" cy="147" r="2.85" fill="none" stroke="#0000FF" stroke-width="0.75"/><line x1="68.85" y1="144.15" x2="74.55" y2="149.85" fill="none" stroke="#0000FF" stroke-width="0.75"/><line x1="68.85" y1="149.85" x2="74.55" y2="144.15" fill="none" stroke="#0000FF" stroke-width="0.75"/>
<circle cx="138.7" cy="146.8" r="2.85" fill="none" stroke="#0000FF" stroke-width="0.75"/><line x1="135.85" y1="143.95" x2="141.55" y2="149.65" fill="none" stroke="#0000FF" stroke-width="0.75"/><line x1="135.85" y1="149.65" x2="141.55" y2="143.95" fill="none" stroke="#0000FF" stroke-width="0.75"/>
<circle cx="220.5" cy="147" r="2.85" fill="none" stroke="#0000FF" stroke-width="0.75"/><line x1="217.65" y1="144.15" x2="223.35" y2="149.85" fill="none" stroke="#0000FF" stroke-width="0.75"/><line x1="217.65" y1="149.85" x2="223.35" y2="144.15" fill="none" stroke="#0000FF" stroke-width="0.75"/>
<circle cx="330.5" cy="53" r="2.85" fill="none" stroke="#0000FF" stroke-width="0.75"/><line x1="327.65" y1="50.15" x2="333.35" y2="55.85" fill="none" stroke="#0000FF" stroke-width="0.75"/><line x1="327.65" y1="55.85" x2="333.35" y2="50.15" fill="none" stroke="#0000FF" stroke-width="0.75"/>
<circle cx="72" cy="522.3" r="2.85" fill="none" stroke="#0000FF" stroke-width="0.75"/><line x1="69.15" y1="519.45" x2="74.85" y2="525.15" fill="none" stroke="#0000FF" stroke-width="0.75"/><line x1="69.15" y1="525.15" x2="74.85" y2="519.45" fill="none" stroke="#0000FF" stroke-width="0.75"/>
<circle cx="146.7" cy="497.7" r="2.85" fill="none" stroke="#0000FF" stroke-width="0.75"/><line x1="143.85" y1="494.85" x2="149.55" y2="500.55" fill="none" stroke="#0000FF" stroke-width="0.75"/><line x1="143.85" y1="500.55" x2="149.55" y2="494.85" fill="none" stroke="#0000FF" stroke-width="0.75"/>
<circle cx="214.7" cy="497.6" r="2.85" fill="none" stroke="#0000FF" stroke-width="0.75"/><line x1="211.85" y1="494.75" x2="217.55" y2="500.45" fill="none" stroke="#0000FF" stroke-width="0.75"/><line x1="211.85" y1="500.45" x2="217.55" y2="494.75" fill="none" stroke="#0000FF" stroke-width="0.75"/>
<polygon points="71.3,158.85 74.15,164.55 68.45,164.55" fill="none" stroke="#A52A2A" stroke-width="0.75"/><rect x="68.45" y="158.85" width="5.7" height="5.7" fill="none" stroke="#A52A2A" stroke-width="0.75"/>
<polygon points="143.4,181.05 146.25,186.75 140.55,186.75" fill="none" stroke="#A52A2A" stroke-width="0.75"/><rect x="140.55" y="181.05" width="5.7" height="5.7" fill="none" stroke="#A52A2A" stroke-width="0.75"/>
<polygon points="210.6,173.35 213.45,179.05 207.75,179.05" fill="none" stroke="#A52A2A" stroke-width="0.75"/><rect x="207.75" y="173.35" width="5.7" height="5.7" fill="none" stroke="#A52A2A" stroke-width="0.75"/>
<polygon points="67.3,525.45 70.15,531.15 64.45,531.15" fill="none" stroke="#A52A2A" stroke-width="0.75"/><rect x="64.45" y="525.45" width="5.7" height="5.7" fill="none" stroke="#A52A2A" stroke-width="0.75"/>
<polygon points="136.4,519.55 139.25,525.25 133.55,525.25" fill="none" stroke="#A52A2A" stroke-width="0.75"/><rect x="133.55" y="519.55" width="5.7" height="5.7" fill="none" stroke="#A52A2A" stroke-width="0.75"/>
<rect x="59.65" y="173.35" width="5.7" height="5.7" fill="#00FF00"/>
<rect x="132.85" y="181.05" width="5.7" height="5.7" fill="#00FF00"/>
<rect x="218.35" y="188.35" width="5.7" height="5.7" fill="#00FF00"/>
<rect x="323.15" y="81.75" width="5.7" height="5.7" fill="#00FF00"/>
<rect x="402.65" y="81.75" width="5.7" height="5.7" fill="#00FF00"/>
<rect x="470.55" y="81.75" width="5.7" height="5.7" fill="#00FF00"/>
<rect x="68.45" y="588.15" width="5.7" height="5.7" fill="#00FF00"/>
<rect x="141.25" y="550.65" width="5.7" height="5.7" fill="#00FF00"/>
<rect x="213.15" y="544.45" width="5.7" height="5.7" fill="#00FF00"/>
<circle cx="63.7" cy="117.2" r="2.85" fill="#A020F0"/>
<circle cx="138.1" cy="124.5" r="2.85" fill="#A020F0"/>
<circle cx="214" cy="117.4" r="2.85" fill="#A020F0"/>
<circle cx="329.6" cy="51.7" r="2.85" fill="#A020F0"/>
<circle cx="397.6" cy="53.1" r="2.85" fill="#A020F0"/>
<circle cx="67.1" cy="553.7" r="2.85" fill="#A020F0"/>
<circle cx="137.4" cy="559.7" r="2.85" fill="#A020F0"/>
<circle cx="217.3" cy="541.1" r="2.85" fill="#A020F0"/>
<polygon points="73.3,201.27 77.14,207.92 69.46,207.92" fill="#00FFFF"/>
<polygon points="140.2,201.07 144.04,207.72 136.36,207.72" fill="#00FFFF"/>
<polygon points="219.3,215.87 223.14,222.52 215.46,222.52" fill="#00FFFF"/>
<polygon points="330.1,52.37 333.94,59.02 326.26,59.02" fill="#00FFFF"/>
<polygon points="405.9,52.37 409.74,59.02 402.06,59.02" fill="#00FFFF"/>
<polygon points="477.1,51.57 480.94,58.22 473.26,58.22" fill="#00FFFF"/>
<polygon points="70,630.17 73.84,636.82 66.16,636.82" fill="#00FFFF"/>
<polygon points="143.8,592.57 147.64,599.22 139.96,599.22" fill="#00FFFF"/>
<polygon points="219.7,561.57 223.54,568.22 215.86,568.22" fill="#00FFFF"/>
<polygon points="66.15,87.9 69,85.05 71.85,87.9 69,90.75" fill="#000000"/>
<polygon points="136.55,109.9 139.4,107.05 142.25,109.9 139.4,112.75" fill="#000000"/>
<polygon points="212.55,102.6 215.4,99.75 218.25,102.6 215.4,105.45" fill="#000000"/>
<polygon points="399.25,48.6 402.1,45.75 404.95,48.6 402.1,51.45" fill="#000000"/>
<polygon points="474.55,48.6 477.4,45.75 480.25,48.6 477.4,51.45" fill="#000000"/>
<polygon points="65.55,528.3 68.4,525.45 71.25,528.3 68.4,531.15" fill="#000000"/>
<polygon points="136.55,522.4 139.4,519.55 142.25,522.4 139.4,525.25" fill="#000000"/>
<polygon points="207.85,509.7 210.7,506.85 213.55,509.7 210.7,512.55" fill="#000000"/>
<circle cx="59.1" cy="132.1" r="2.85" fill="#FF0000" stroke="#FF0000" stroke-width="0.75"/>
<circle cx="142.7" cy="124.8" r="2.85" fill="#FF0000" stroke="#FF0000" stroke-width="0.75"/>
<circle cx="219.8" cy="117.4" r="2.85" fill="#FF0000" stroke="#FF0000" stroke-width="0.75"/>
<circle cx="321.6" cy="52" r="2.85" fill="#FF0000" stroke="#FF0000" stroke-width="0.75"/>
<circle cx="403.9" cy="52.6" r="2.85" fill="#FF0000" stroke="#FF0000" stroke-width="0.75"/>
<circle cx="482.6" cy="53" r="2.85" fill="#FF0000" stroke="#FF0000" stroke-width="0.75"/>
<circle cx="67.6" cy="509.9" r="2.85" fill="#FF0000" stroke="#FF0000" stroke-width="0.75"/>
<circle cx="147.7" cy="491.6" r="2.85" fill="#FF0000" stroke="#FF0000" stroke-width="0.75"/>
<circle cx="221.7" cy="491.1" r="2.85" fill="#FF0000" stroke="#FF0000" stroke-width="0.75"/>
<circle cx="73.3" cy="191.3" r="1.9" fill="#0000FF" stroke="#0000FF" stroke-width="0.75"/>
<circle cx="139.8" cy="176.5" r="1.9" fill="#0000FF" stroke="#0000FF" stroke-width="0.75"/>
<circle cx="210.1" cy="191.2" r="1.9" fill="#0000FF" stroke="#0000FF" stroke-width="0.75"/>
<circle cx="326.1" cy="52.6" r="1.9" fill="#0000FF" stroke="#0000FF" stroke-width="0.75"/>
<circle cx="401.6" cy="53.1" r="1.9" fill="#0000FF" stroke="#0000FF" stroke-width="0.75"/>
<circle cx="474" cy="53.3" r="1.9" fill="#0000FF" stroke="#0000FF" stroke-width="0.75"/>
<circle cx="72.4" cy="565.9" r="1.9" fill="#0000FF" stroke="#0000FF" stroke-width="0.75"/>
<circle cx="137.4" cy="565.7" r="1.9" fill="#0000FF" stroke="#0000FF" stroke-width="0.75"/>
<circle cx="214.1" cy="559.7" r="1.9" fill="#0000FF" stroke="#0000FF" stroke-width="0.75"/>
<circle cx="62.4" cy="124.9" r="2.85" fill="none" stroke="#A52A2A" stroke-width="0.75"/><line x1="59.55" y1="122.05" x2="65.25" y2="127.75" fill="none" stroke="#A52A2A" stroke-width="0.75"/><line x1="59.55" y1="127.75" x2="65.25" y2="122.05" fill="none" stroke="#A52A2A" stroke-width="0.75"/>
<circle cx="146.7" cy="168.9" r="2.85" fill="none" stroke="#A52A2A" stroke-width="0.75"/><line x1="143.85" y1="166.05" x2="149.55" y2="171.75" fill="none" stroke="#A52A2A" stroke-width="0.75"/><line x1="143.85" y1="171.75" x2="149.55" y2="166.05" fill="none" stroke="#A52A2A" stroke-width="0.75"/>
<circle cx="222" cy="95.2" r="2.85" fill="none" stroke="#A52A2A" stroke-width="0.75"/><line x1="219.15" y1="92.35" x2="224.85" y2="98.05" fill="none" stroke="#A52A2A" stroke-width="0.75"/><line x1="219.15" y1="98.05" x2="224.85" y2="92.35" fill="none" stroke="#A52A2A" stroke-width="0.75"/>
<circle cx="331.4" cy="301.6" r="2.85" fill="none" stroke="#A52A2A" stroke-width="0.75"/><line x1="328.55" y1="298.75" x2="334.25" y2="304.45" fill="none" stroke="#A52A2A" stroke-width="0.75"/><line x1="328.55" y1="304.45" x2="334.25" y2="298.75" fill="none" stroke="#A52A2A" stroke-width="0.75"/>
<circle cx="401.9" cy="301.9" r="2.85" fill="none" stroke="#A52A2A" stroke-width="0.75"/><line x1="399.05" y1="299.05" x2="404.75" y2="304.75" fill="none" stroke="#A52A2A" stroke-width="0.75"/><line x1="399.05" y1="304.75" x2="404.75" y2="299.05" fill="none" stroke="#A52A2A" stroke-width="0.75"/>
<circle cx="482.9" cy="301.9" r="2.85" fill="none" stroke="#A52A2A" stroke-width="0.75"/><line x1="480.05" y1="299.05" x2="485.75" y2="304.75" fill="none" stroke="#A52A2A" stroke-width="0.75"/><line x1="480.05" y1="304.75" x2="485.75" y2="299.05" fill="none" stroke="#A52A2A" stroke-width="0.75"/>
<circle cx="61.3" cy="441.3" r="2.85" fill="none" stroke="#A52A2A" stroke-width="0.75"/><line x1="58.45" y1="438.45" x2="64.15" y2="444.15" fill="none" stroke="#A52A2A" stroke-width="0.75"/><line x1="58.45" y1="444.15" x2="64.15" y2="438.45" fill="none" stroke="#A52A2A" stroke-width="0.75"/>
<circle cx="137.9" cy="510" r="2.85" fill="none" stroke="#A52A2A" stroke-width="0.75"/><line x1="135.05" y1="507.15" x2="140.75" y2="512.85" fill="none" stroke="#A52A2A" stroke-width="0.75"/><line x1="135.05" y1="512.85" x2="140.75" y2="507.15" fill="none" stroke="#A52A2A" stroke-width="0.75"/>
<circle cx="216.9" cy="397.7" r="2.85" fill="none" stroke="#A52A2A" stroke-width="0.75"/><line x1="214.05" y1="394.85" x2="219.75" y2="400.55" fill="none" stroke="#A52A2A" stroke-width="0.75"/><line x1="214.05" y1="400.55" x2="219.75" y2="394.85" fill="none" stroke="#A52A2A" stroke-width="0.75"/>
<rect x="62.38" y="114.58" width="5.24" height="5.24" fill="none" stroke="#FF0000" stroke-width="0.75"/>
<rect x="142.18" y="129.38" width="5.24" height="5.24" fill="none" stroke="#FF0000" stroke-width="0.75"/>
<rect x="211.18" y="114.78" width="5.24" height="5.24" fill="none" stroke="#FF0000" stroke-width="0.75"/>
<rect x="395.38" y="45.08" width="5.24" height="5.24" fill="none" stroke="#FF0000" stroke-width="0.75"/>
<rect x="473.38" y="47.38" width="5.24" height="5.24" fill="none" stroke="#FF0000" stroke-width="0.75"/>
<rect x="67.08" y="569.68" width="5.24" height="5.24" fill="none" stroke="#FF0000" stroke-width="0.75"/>
<rect x="131.78" y="544.48" width="5.24" height="5.24" fill="none" stroke="#FF0000" stroke-width="0.75"/>
<rect x="214.28" y="526.08" width="5.24" height="5.24" fill="none" stroke="#FF0000" stroke-width="0.75"/>
<line x1="66.35" y1="136.45" x2="72.05" y2="142.15" fill="none" stroke="#0000FF" stroke-width="0.75"/><line x1="66.35" y1="142.15" x2="72.05" y2="136.45" fill="none" stroke="#0000FF" stroke-width="0.75"/><line x1="65.17" y1="139.3" x2="73.23" y2="139.3" fill="none" stroke="#0000FF" stroke-width="0.75"/><line x1="69.2" y1="135.27" x2="69.2" y2="143.33" fill="none" stroke="#0000FF" stroke-width="0.75"/>
<line x1="142.65" y1="143.95" x2="148.35" y2="149.65" fill="none" stroke="#0000FF" stroke-width="0.75"/><line x1="142.65" y1="149.65" x2="148.35" y2="143.95" fill="none" stroke="#0000FF" stroke-width="0.75"/><line x1="141.47" y1="146.8" x2="149.53" y2="146.8" fill="none" stroke="#0000FF" stroke-width="0.75"/><line x1="145.5" y1="142.77" x2="145.5" y2="150.83" fill="none" stroke="#0000FF" stroke-width="0.75"/>
<line x1="219.55" y1="166.15" x2="225.25" y2="171.85" fill="none" stroke="#0000FF" stroke-width="0.75"/><line x1="219.55" y1="171.85" x2="225.25" y2="166.15" fill="none" stroke="#0000FF" stroke-width="0.75"/><line x1="218.37" y1="169" x2="226.43" y2="169" fill="none" stroke="#0000FF" stroke-width="0.75"/><line x1="222.4" y1="164.97" x2="222.4" y2="173.03" fill="none" stroke="#0000FF" stroke-width="0.75"/>
<line x1="325.25" y1="61.75" x2="330.95" y2="67.45" fill="none" stroke="#0000FF" stroke-width="0.75"/><line x1="325.25" y1="67.45" x2="330.95" y2="61.75" fill="none" stroke="#0000FF" stroke-width="0.75"/><line x1="324.07" y1="64.6" x2="332.13" y2="64.6" fill="none" stroke="#0000FF" stroke-width="0.75"/><line x1="328.1" y1="60.57" x2="328.1" y2="68.63" fill="none" stroke="#0000FF" stroke-width="0.75"/>
<line x1="393.85" y1="61.75" x2="399.55" y2="67.45" fill="none" stroke="#0000FF" stroke-width="0.75"/><line x1="393.85" y1="67.45" x2="399.55" y2="61.75" fill="none" stroke="#0000FF" stroke-width="0.75"/><line x1="392.67" y1="64.6" x2="400.73" y2="64.6" fill="none" stroke="#0000FF" stroke-width="0.75"/><line x1="396.7" y1="60.57" x2="396.7" y2="68.63" fill="none" stroke="#0000FF" stroke-width="0.75"/>
<line x1="468.55" y1="61.75" x2="474.25" y2="67.45" fill="none" stroke="#0000FF" stroke-width="0.75"/><line x1="468.55" y1="67.45" x2="474.25" y2="61.75" fill="none" stroke="#0000FF" stroke-width="0.75"/><line x1="467.37" y1="64.6" x2="475.43" y2="64.6" fill="none" stroke="#0000FF" stroke-width="0.75"/><line x1="471.4" y1="60.57" x2="471.4" y2="68.63" fill="none" stroke="#0000FF" stroke-width="0.75"/>
<line x1="56.15" y1="494.55" x2="61.85" y2="500.25" fill="none" stroke="#0000FF" stroke-width="0.75"/><line x1="56.15" y1="500.25" x2="61.85" y2="494.55" fill="none" stroke="#0000FF" stroke-width="0.75"/><line x1="54.97" y1="497.4" x2="63.03" y2="497.4" fill="none" stroke="#0000FF" stroke-width="0.75"/><line x1="59" y1="493.37" x2="59" y2="501.43" fill="none" stroke="#0000FF" stroke-width="0.75"/>
<line x1="134.85" y1="463.45" x2="140.55" y2="469.15" fill="none" stroke="#0000FF" stroke-width="0.75"/><line x1="134.85" y1="469.15" x2="140.55" y2="463.45" fill="none" stroke="#0000FF" stroke-width="0.75"/><line x1="133.67" y1="466.3" x2="141.73" y2="466.3" fill="none" stroke="#0000FF" stroke-width="0.75"/><line x1="137.7" y1="462.27" x2="137.7" y2="470.33" fill="none" stroke="#0000FF" stroke-width="0.75"/>
<line x1="208.45" y1="463.45" x2="214.15" y2="469.15" fill="none" stroke="#0000FF" stroke-width="0.75"/><line x1="208.45" y1="469.15" x2="214.15" y2="463.45" fill="none" stroke="#0000FF" stroke-width="0.75"/><line x1="207.27" y1="466.3" x2="215.33" y2="466.3" fill="none" stroke="#0000FF" stroke-width="0.75"/><line x1="211.3" y1="462.27" x2="211.3" y2="470.33" fill="none" stroke="#0000FF" stroke-width="0.75"/>
<polygon points="62.1,112.77 65.94,119.42 58.26,119.42" fill="none" stroke="#A52A2A" stroke-width="0.75"/>
<polygon points="138.7,112.97 142.54,119.62 134.86,119.62" fill="none" stroke="#A52A2A" stroke-width="0.75"/>
<polygon points="211,120.07 214.84,126.72 207.16,126.72" fill="none" stroke="#A52A2A" stroke-width="0.75"/>
<polygon points="335.3,52.67 339.14,59.32 331.46,59.32" fill="none" stroke="#A52A2A" stroke-width="0.75"/>
<polygon points="406.4,52.97 410.24,59.62 402.56,59.62" fill="none" stroke="#A52A2A" stroke-width="0.75"/>
<polygon points="478.6,52.67 482.44,59.32 474.76,59.32" fill="none" stroke="#A52A2A" stroke-width="0.75"/>
<polygon points="67.3,499.27 71.14,505.92 63.46,505.92" fill="none" stroke="#A52A2A" stroke-width="0.75"/>
<polygon points="140.5,499.07 144.34,505.72 136.66,505.72" fill="none" stroke="#A52A2A" stroke-width="0.75"/>
<polygon points="212.7,467.97 216.54,474.62 208.86,474.62" fill="none" stroke="#A52A2A" stroke-width="0.75"/>
<rect x="139.25" y="107.05" width="5.7" height="5.7" fill="none" stroke="#000000" stroke-width="0.75"/><line x1="139.25" y1="107.05" x2="144.95" y2="112.75" fill="none" stroke="#000000" stroke-width="0.75"/><line x1="139.25" y1="112.75" x2="144.95" y2="107.05" fill="none" stroke="#000000" stroke-width="0.75"/>
<polygon points="319.55,48.6 322.4,45.75 325.25,48.6 322.4,51.45" fill="#000000"/>
<polygon points="407.3,40.87 411.14,47.52 403.46,47.52" fill="none" stroke="#0000FF" stroke-width="0.75"/>
<clipPath id="lc"><rect x="262" y="333" width="263" height="312.6"/></clipPath><g clip-path="url(#lc)">
<rect x="296.25" y="363.05" width="6.3" height="6.3" fill="none" stroke="#000000" stroke-width="0.75"/>
<text x="308.7" y="369.9" font-family="Liberation Sans" font-size="9.6" letter-spacing="0.25" fill="#000">WRF331-NorESM1-M</text>
<circle cx="299.4" cy="378.2" r="3.15" fill="none" stroke="#FF0000" stroke-width="0.75"/>
<text x="308.7" y="381.9" font-family="Liberation Sans" font-size="9.6" letter-spacing="0.25" fill="#000">CanRCM4_r2-CanESM2</text>
<polygon points="299.4,385.3 303.64,392.65 295.16,392.65" fill="none" stroke="#0000FF" stroke-width="0.75"/>
<text x="308.7" y="393.9" font-family="Liberation Sans" font-size="9.6" letter-spacing="0.25" fill="#000">CCLM4-8-17_v1-CNRM-CM5</text>
<line x1="294.95" y1="402.2" x2="303.85" y2="402.2" fill="none" stroke="#A52A2A" stroke-width="0.75"/><line x1="299.4" y1="397.75" x2="299.4" y2="406.65" fill="none" stroke="#A52A2A" stroke-width="0.75"/>
<text x="308.7" y="405.9" font-family="Liberation Sans" font-size="9.6" letter-spacing="0.25" fill="#000">CCLM4-8-17_v1-EC-EARTH</text>
<line x1="296.25" y1="411.05" x2="302.55" y2="417.35" fill="none" stroke="#00FF00" stroke-width="0.75"/><line x1="296.25" y1="417.35" x2="302.55" y2="411.05" fill="none" stroke="#00FF00" stroke-width="0.75"/>
<text x="308.7" y="417.9" font-family="Liberation Sans" font-size="9.6" letter-spacing="0.25" fill="#000">CCLM4-8-17_v1-HadGEM2-ES</text>
<polygon points="294.95,426.2 299.4,421.75 303.85,426.2 299.4,430.65" fill="none" stroke="#A020F0" stroke-width="0.75"/>
<text x="308.7" y="429.9" font-family="Liberation Sans" font-size="9.6" letter-spacing="0.25" fill="#000">CCLM4-8-17_v1-MPI-ESM-LR</text>
<polygon points="299.4,443.1 303.64,435.75 295.16,435.75" fill="none" stroke="#00FFFF" stroke-width="0.75"/>
<text x="308.7" y="441.9" font-family="Liberation Sans" font-size="9.6" letter-spacing="0.25" fill="#000">ALADIN52_v1-CNRM-CM5</text>
<rect x="296.25" y="447.05" width="6.3" height="6.3" fill="none" stroke="#000000" stroke-width="0.75"/><line x1="296.25" y1="447.05" x2="302.55" y2="453.35" fill="none" stroke="#000000" stroke-width="0.75"/><line x1="296.25" y1="453.35" x2="302.55" y2="447.05" fill="none" stroke="#000000" stroke-width="0.75"/>
<text x="308.7" y="453.9" font-family="Liberation Sans" font-size="9.6" letter-spacing="0.25" fill="#000">HIRHAM5_v1-NorESM1-M</text>
<line x1="296.25" y1="459.05" x2="302.55" y2="465.35" fill="none" stroke="#FF0000" stroke-width="0.75"/><line x1="296.25" y1="465.35" x2="302.55" y2="459.05" fill="none" stroke="#FF0000" stroke-width="0.75"/><line x1="294.95" y1="462.2" x2="303.85" y2="462.2" fill="none" stroke="#FF0000" stroke-width="0.75"/><line x1="299.4" y1="457.75" x2="299.4" y2="466.65" fill="none" stroke="#FF0000" stroke-width="0.75"/>
<text x="308.7" y="465.9" font-family="Liberation Sans" font-size="9.6" letter-spacing="0.25" fill="#000">HIRHAM5_v2-EC-EARTH</text>
<line x1="294.95" y1="474.2" x2="303.85" y2="474.2" fill="none" stroke="#0000FF" stroke-width="0.75"/><line x1="299.4" y1="469.75" x2="299.4" y2="478.65" fill="none" stroke="#0000FF" stroke-width="0.75"/><polygon points="294.95,474.2 299.4,469.75 303.85,474.2 299.4,478.65" fill="none" stroke="#0000FF" stroke-width="0.75"/>
<text x="308.7" y="477.9" font-family="Liberation Sans" font-size="9.6" letter-spacing="0.25" fill="#000">REMO2009_v1-IPSL-CM5A-LR</text>
<circle cx="299.4" cy="486.2" r="3.15" fill="none" stroke="#A020F0" stroke-width="0.75"/><line x1="296.25" y1="486.2" x2="302.55" y2="486.2" fill="none" stroke="#A020F0" stroke-width="0.75"/><line x1="299.4" y1="483.05" x2="299.4" y2="489.35" fill="none" stroke="#A020F0" stroke-width="0.75"/>
<text x="308.7" y="489.9" font-family="Liberation Sans" font-size="9.6" letter-spacing="0.25" fill="#000">RegCM4-3_v4-MPI-ESM-MR</text>
<polygon points="299.4,493.3 303.64,501.87 295.16,501.87" fill="none" stroke="#00FF00" stroke-width="0.75"/><polygon points="299.4,503.1 303.64,494.53 295.16,494.53" fill="none" stroke="#00FF00" stroke-width="0.75"/>
<text x="308.7" y="501.9" font-family="Liberation Sans" font-size="9.6" letter-spacing="0.25" fill="#000">RACMO22T_v1-EC-EARTH</text>
<rect x="296.25" y="507.05" width="6.3" height="6.3" fill="none" stroke="#FF0000" stroke-width="0.75"/><line x1="296.25" y1="510.2" x2="302.55" y2="510.2" fill="none" stroke="#FF0000" stroke-width="0.75"/><line x1="299.4" y1="507.05" x2="299.4" y2="513.35" fill="none" stroke="#FF0000" stroke-width="0.75"/>
<text x="308.7" y="513.9" font-family="Liberation Sans" font-size="9.6" letter-spacing="0.25" fill="#000">RACMO22T_v2-HadGEM2-ES</text>
<circle cx="299.4" cy="522.2" r="3.15" fill="none" stroke="#0000FF" stroke-width="0.75"/><line x1="296.25" y1="519.05" x2="302.55" y2="525.35" fill="none" stroke="#0000FF" stroke-width="0.75"/><line x1="296.25" y1="525.35" x2="302.55" y2="519.05" fill="none" stroke="#0000FF" stroke-width="0.75"/>
<text x="308.7" y="525.9" font-family="Liberation Sans" font-size="9.6" letter-spacing="0.25" fill="#000">REMO2009_v1-EC-EARTH</text>
<polygon points="299.4,531.05 302.55,537.35 296.25,537.35" fill="none" stroke="#A52A2A" stroke-width="0.75"/><rect x="296.25" y="531.05" width="6.3" height="6.3" fill="none" stroke="#A52A2A" stroke-width="0.75"/>
<text x="308.7" y="537.9" font-family="Liberation Sans" font-size="9.6" letter-spacing="0.25" fill="#000">REMO2009_v1-MPI-ESM-LR</text>
<rect x="296.25" y="543.05" width="6.3" height="6.3" fill="#00FF00"/>
<text x="308.7" y="549.9" font-family="Liberation Sans" font-size="9.6" letter-spacing="0.25" fill="#000">RCA4_v1-CanESM2</text>
<circle cx="299.4" cy="558.2" r="3.15" fill="#A020F0"/>
<text x="308.7" y="561.9" font-family="Liberation Sans" font-size="9.6" letter-spacing="0.25" fill="#000">RCA4_v1-CNRM-CM5</text>
<polygon points="299.4,565.3 303.64,572.65 295.16,572.65" fill="#00FFFF"/>
<text x="308.7" y="573.9" font-family="Liberation Sans" font-size="9.6" letter-spacing="0.25" fill="#000">RCA4_v1-CSIRO-Mk3-6-0</text>
<polygon points="296.25,582.2 299.4,579.05 302.55,582.2 299.4,585.35" fill="#000000"/>
<text x="308.7" y="585.9" font-family="Liberation Sans" font-size="9.6" letter-spacing="0.25" fill="#000">RCA4_v1-EC-EARTH</text>
<circle cx="299.4" cy="594.2" r="3.15" fill="#FF0000" stroke="#FF0000" stroke-width="0.75"/>
<text x="308.7" y="597.9" font-family="Liberation Sans" font-size="9.6" letter-spacing="0.25" fill="#000">RCA4_v1-CM5A-MR</text>
<circle cx="299.4" cy="606.2" r="2.1" fill="#0000FF" stroke="#0000FF" stroke-width="0.75"/>
<text x="308.7" y="609.9" font-family="Liberation Sans" font-size="9.6" letter-spacing="0.25" fill="#000">RCA4_v1-MIROC5</text>
<circle cx="299.4" cy="618.2" r="3.15" fill="none" stroke="#A52A2A" stroke-width="0.75"/><line x1="296.25" y1="615.05" x2="302.55" y2="621.35" fill="none" stroke="#A52A2A" stroke-width="0.75"/><line x1="296.25" y1="621.35" x2="302.55" y2="615.05" fill="none" stroke="#A52A2A" stroke-width="0.75"/>
<text x="308.7" y="621.9" font-family="Liberation Sans" font-size="9.6" letter-spacing="0.25" fill="#000">RCA4_v1-HadGEM2-ES</text>
<rect x="296.25" y="627.05" width="6.3" height="6.3" fill="none" stroke="#FF0000" stroke-width="0.75"/>
<text x="308.7" y="633.9" font-family="Liberation Sans" font-size="9.6" letter-spacing="0.25" fill="#000">RCA4_v1-MPI-ESM-LR</text>
<line x1="296.25" y1="639.05" x2="302.55" y2="645.35" fill="none" stroke="#0000FF" stroke-width="0.75"/><line x1="296.25" y1="645.35" x2="302.55" y2="639.05" fill="none" stroke="#0000FF" stroke-width="0.75"/><line x1="294.95" y1="642.2" x2="303.85" y2="642.2" fill="none" stroke="#0000FF" stroke-width="0.75"/><line x1="299.4" y1="637.75" x2="299.4" y2="646.65" fill="none" stroke="#0000FF" stroke-width="0.75"/>
<text x="308.7" y="645.9" font-family="Liberation Sans" font-size="9.6" letter-spacing="0.25" fill="#000">RCA4_v1-NorESM1-M</text>
</g>
</g>
</svg>
</body></html>
